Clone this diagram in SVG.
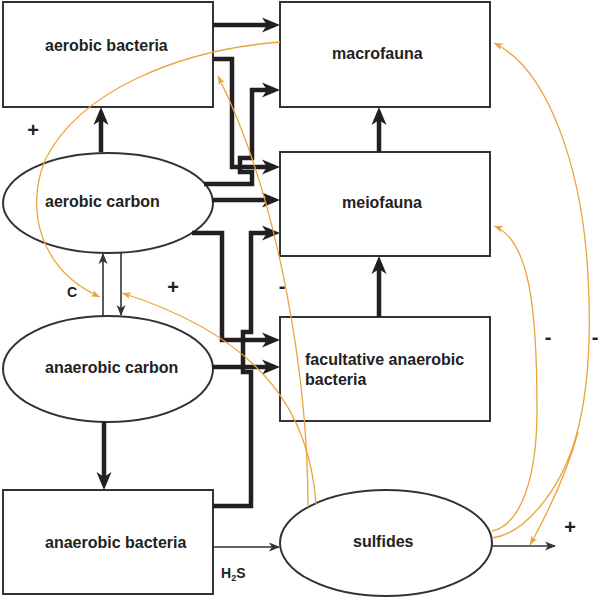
<svg xmlns="http://www.w3.org/2000/svg" width="600" height="597" viewBox="0 0 600 597">
<style>
.box{fill:#fff;stroke:#333;stroke-width:2}
.lbl{font-family:"Liberation Sans",Arial,sans-serif;font-weight:bold;font-size:16px;fill:#222}
.sign{font-family:"Liberation Sans",Arial,sans-serif;font-weight:bold;font-size:20px;fill:#222;text-anchor:middle}
.thick{fill:none;stroke:#231f20;stroke-width:4.5;stroke-linejoin:miter;marker-end:url(#ah)}
.thin{fill:none;stroke:#333;stroke-width:1.6;marker-end:url(#at)}
.or{fill:none;stroke:#EBA43A;stroke-width:1.3}
.ora{marker-end:url(#ao)}
</style>
<defs>
<marker id="ah" markerUnits="userSpaceOnUse" markerWidth="20" markerHeight="16" refX="12" refY="7.5" orient="auto" overflow="visible">
<path d="M0,0 L18,7.5 L0,15 L5,7.5 z" fill="#231f20"/>
</marker>
<marker id="at" markerUnits="userSpaceOnUse" markerWidth="12" markerHeight="10" refX="10" refY="4.5" orient="auto" overflow="visible">
<path d="M0,0 L11,4.5 L0,9 L3,4.5 z" fill="#333"/>
</marker>
<marker id="ao" markerUnits="userSpaceOnUse" markerWidth="10" markerHeight="8" refX="9" refY="3.5" orient="auto" overflow="visible">
<path d="M0,0 L9,3.5 L0,7 L2.5,3.5 z" fill="#EBA43A"/>
</marker>
</defs>
<rect width="600" height="597" fill="#fff"/>
<g id="nodes">
<g id="aerobic-bacteria"><rect class="box" x="3" y="2" width="210" height="105"/><text class="lbl" x="45" y="51">aerobic bacteria</text></g>
<g id="macrofauna"><rect class="box" x="280" y="2" width="210" height="105"/><text class="lbl" x="332" y="59">macrofauna</text></g>
<g id="meiofauna"><rect class="box" x="280" y="152" width="210" height="104"/><text class="lbl" x="342" y="208">meiofauna</text></g>
<g id="facultative"><rect class="box" x="280" y="317" width="210" height="104"/><text class="lbl" x="305" y="365">facultative anaerobic</text><text class="lbl" x="305" y="385">bacteria</text></g>
<g id="anaerobic-bacteria"><rect class="box" x="3" y="490" width="210" height="104"/><text class="lbl" x="45" y="548">anaerobic bacteria</text></g>
<g id="aerobic-carbon"><ellipse class="box" cx="108" cy="203" rx="105" ry="50"/><text class="lbl" x="45" y="207">aerobic carbon</text></g>
<g id="anaerobic-carbon"><ellipse class="box" cx="108" cy="369" rx="105" ry="53"/><text class="lbl" x="45" y="373">anaerobic carbon</text></g>
<g id="sulfides"><ellipse class="box" cx="386" cy="543" rx="106" ry="53"/><text class="lbl" x="353" y="547">sulfides</text></g>
</g>
<g id="connectors">
<path class="thick" d="M213,25 H274"/>
<path class="thick" d="M213,59 H232 V167 H274"/>
<path class="thick" d="M204,184 H252 V172 H240 V158 H252 V90 H274"/>
<path class="thick" d="M212,200 H274"/>
<path class="thick" d="M192,233 H222 V340 H274"/>
<path class="thick" d="M213,506 H251 V372 H243 V332 H251 V233 H274"/>
<path class="thick" d="M212,367 H274"/>
<path class="thick" d="M101,152 V113"/>
<path class="thick" d="M104,422 V484"/>
<path class="thick" d="M379,152 V113"/>
<path class="thick" d="M379,317 V262"/>
<path class="thin" d="M103,316 V254"/>
<path class="thin" d="M121,253 V315"/>
<path class="thin" d="M213,547 H279"/>
<path class="thin" d="M492,546 H555"/>
<path class="or ora" d="M280,42 C180,50 80,90 45,160 C25,210 40,270 100,297"/>
<path class="or ora" d="M308,507 C308,380 280,200 218,76"/>
<path class="or ora" d="M316,504 C310,420 270,340 122,293"/>
<path class="or ora" d="M492,531 C520,525 537,480 537,410 C537,310 530,240 494,226"/>
<path class="or ora" d="M492,538 C525,534 560,490 575,440 C590,390 592,330 587,260 C580,170 550,70 494,43"/>
<path class="or ora" d="M578,432 C568,470 552,505 530,545"/>
</g>
<g id="labels">
<text class="sign" x="33" y="137">+</text>
<text class="sign" x="173" y="294">+</text>
<text class="sign" x="570" y="534">+</text>
<text class="sign" x="282" y="293">-</text>
<text class="sign" x="548" y="344">-</text>
<text class="sign" x="595" y="344">-</text>
<text x="72" y="297" style="font-family:'Liberation Sans',Arial,sans-serif;font-weight:bold;font-size:14px;fill:#222;text-anchor:middle">C</text>
<text x="221" y="578" style="font-family:'Liberation Sans',Arial,sans-serif;font-weight:bold;font-size:14px;fill:#222">H<tspan font-size="9" dy="3">2</tspan><tspan dy="-3">S</tspan></text>
</g>
</svg>
